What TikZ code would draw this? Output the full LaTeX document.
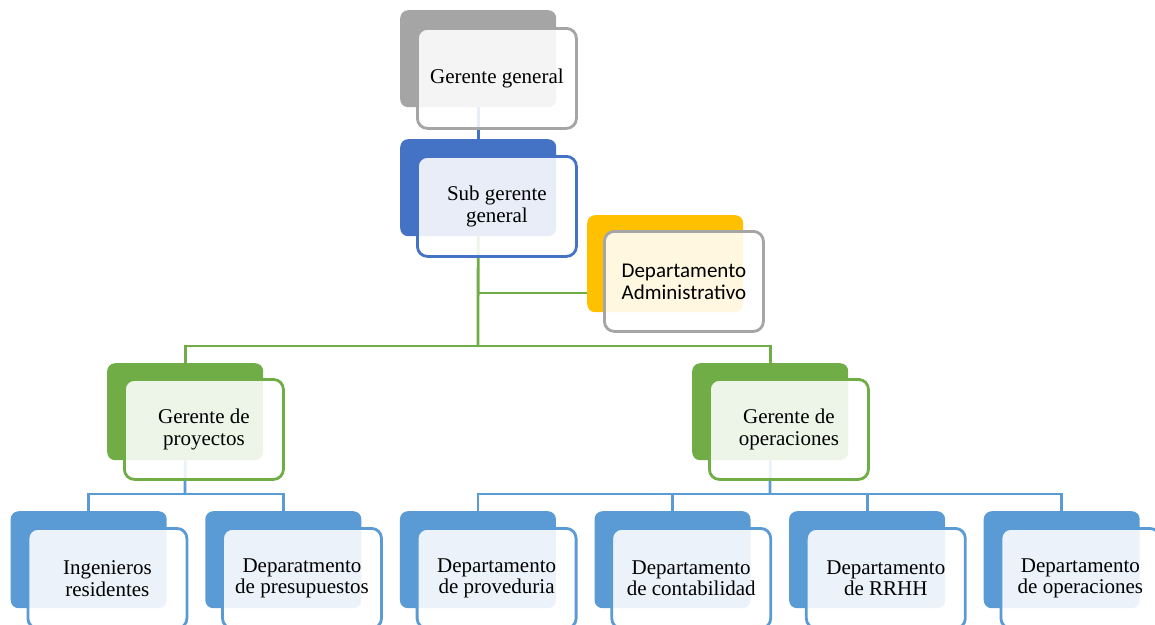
\documentclass[tikz,border=0pt]{standalone}
\usepackage{fontspec}
\setmainfont{Liberation Serif}
\newfontfamily\calibrifont{Carlito}

\definecolor{ggray}{HTML}{A5A5A5}
\definecolor{dblue}{HTML}{4472C4}
\definecolor{gold}{HTML}{FFC000}
\definecolor{lgreen}{HTML}{70AD47}
\definecolor{lblue}{HTML}{5B9BD5}

\tikzset{
  backbox/.style={anchor=north west, rectangle, rounded corners=8pt,
    minimum width=156pt, minimum height=97pt, inner sep=0pt, fill=#1},
  frontbox/.style={anchor=north west, rectangle, rounded corners=10pt,
    minimum width=159pt, minimum height=100pt, inner sep=0pt,
    draw=#1, line width=2.8pt, fill=white, fill opacity=0.88, text opacity=1,
    align=center, font=\fontsize{21}{21.5}\selectfont},
  link/.style={draw=#1, line width=2.8pt},
}

\begin{document}
\begin{tikzpicture}[x=1pt,y=-1pt]
\useasboundingbox (0,0) rectangle (1155,624);
\clip (0,0) rectangle (1155,624);

% coloured back tiles
\node[backbox=ggray]  (gg-b) at (400,10)  {};
\node[backbox=dblue]  (sg-b) at (400,139) {};
\node[backbox=gold]   (da-b) at (587,215) {};
\node[backbox=lgreen] (gp-b) at (107,363) {};
\node[backbox=lgreen] (go-b) at (692,363) {};
\node[backbox=lblue]  (b1-b) at (10.5,511)  {};
\node[backbox=lblue]  (b2-b) at (205.1,511) {};
\node[backbox=lblue]  (b3-b) at (399.7,511) {};
\node[backbox=lblue]  (b4-b) at (594.3,511) {};
\node[backbox=lblue]  (b5-b) at (788.9,511) {};
\node[backbox=lblue]  (b6-b) at (983.5,511) {};

% connectors
\draw[link=dblue] (gg-b.south) -- (sg-b.north);
\coordinate (gbus) at (478,346);
\coordinate (abus) at (478,293);
\draw[link=lgreen] (sg-b.south) -- (gbus);
\draw[link=lgreen] (gp-b.north) |- (gbus) -| (go-b.north);
\draw[link=lgreen] (abus) -- (abus -| da-b.west);

\coordinate (pbus) at (185,494);
\draw[link=lblue] (gp-b.south) -- (pbus);
\draw[link=lblue] (b1-b.north) |- (pbus) -| (b2-b.north);

\coordinate (obus) at (770,494);
\draw[link=lblue] (go-b.south) -- (obus);
\draw[link=lblue] (b3-b.north) |- (obus) -| (b6-b.north);
\draw[link=lblue] (b4-b.north) -- (b4-b.north |- obus);
\draw[link=lblue] (b5-b.north) -- (b5-b.north |- obus);

% front cards with labels
\node[frontbox=ggray]  (gg) at (416,27)  {Gerente general};
\node[frontbox=dblue]  (sg) at (416,155) {Sub gerente\\general};
\node[frontbox=ggray, font=\calibrifont\fontsize{21}{22}\selectfont] (da) at (603,230) {Departamento\\Administrativo};
\node[frontbox=lgreen] (gp) at (123,378) {Gerente de\\proyectos};
\node[frontbox=lgreen] (go) at (708,378) {Gerente de\\operaciones};
\node[frontbox=lblue]  (b1) at (26.5,527)  {Ingenieros\\residentes};
\node[frontbox=lblue]  (b2) at (221.1,527) {Deparatmento\\de presupuestos};
\node[frontbox=lblue]  (b3) at (415.7,527) {Departamento\\de proveduria};
\node[frontbox=lblue]  (b4) at (610.3,527) {Departamento\\de contabilidad};
\node[frontbox=lblue]  (b5) at (804.9,527) {Departamento\\de RRHH};
\node[frontbox=lblue]  (b6) at (999.5,527) {Departamento\\de operaciones};
\end{tikzpicture}
\end{document}
